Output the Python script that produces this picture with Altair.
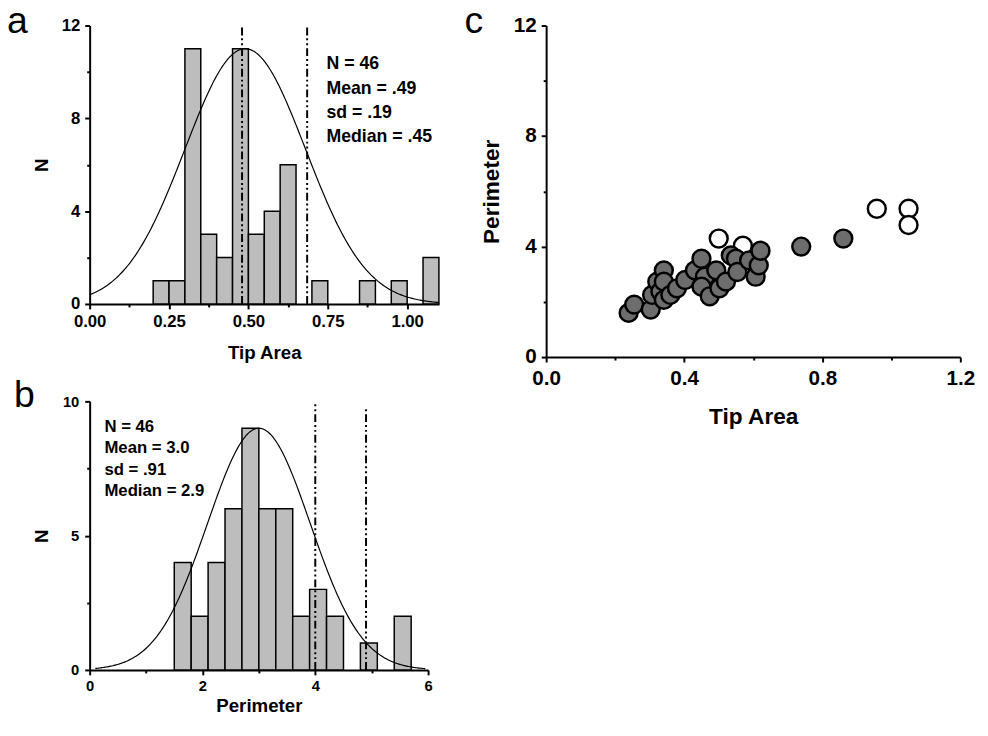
import altair as alt
import pandas as pd

FONT = "Liberation Sans"

# ---------------- Panel a : Tip Area histogram ----------------
a_bin_start = [0.20, 0.25, 0.30, 0.35, 0.40, 0.45, 0.50, 0.55, 0.60, 0.70, 0.85, 0.95, 1.05]
a_counts = [1, 1, 11, 3, 2, 11, 3, 4, 6, 1, 1, 1, 2]
a_bin_width = 0.05
a_ref_x = [0.48, 0.685]
a_ref_top = [12, 12]
a_stats = ["N = 46", "Mean = .49", "sd = .19", "Median = .45"]
a_fit_mean, a_fit_sd, a_fit_peak = 0.49, 0.19, 11.0
a_fit_range = [0.0, 1.1]

# ---------------- Panel b : Perimeter histogram ----------------
b_bin_start = [1.5, 1.8, 2.1, 2.4, 2.7, 3.0, 3.3, 3.6, 3.9, 4.2, 4.8, 5.4]
b_counts = [4, 2, 4, 6, 9, 6, 6, 2, 3, 2, 1, 2]
b_bin_width = 0.3
b_ref_x = [4.0, 4.9]
b_ref_top = [10, 9.8]
b_stats = ["N = 46", "Mean = 3.0", "sd = .91", "Median = 2.9"]
b_fit_mean, b_fit_sd, b_fit_peak = 3.0, 0.91, 9.0
b_fit_range = [0.1, 5.95]

# ---------------- Panel c : scatter ----------------
c_gray_x = [0.239, 0.255, 0.303, 0.307, 0.322, 0.331, 0.341, 0.341, 0.341, 0.36,
            0.379, 0.403, 0.431, 0.45, 0.46, 0.45, 0.474, 0.493, 0.502, 0.521,
            0.535, 0.55, 0.554, 0.588, 0.607, 0.616, 0.621, 0.739, 0.861]
c_gray_y = [1.60, 1.90, 1.72, 2.25, 2.73, 2.37, 3.14, 2.73, 2.07, 2.25,
            2.49, 2.79, 3.14, 3.56, 2.91, 2.55, 2.20, 3.14, 2.49, 2.73,
            3.68, 3.56, 3.08, 3.50, 2.91, 3.32, 3.85, 4.00, 4.29]
c_white_x = [0.50, 0.57, 0.958, 1.05, 1.05]
c_white_y = [4.29, 4.03, 5.37, 5.37, 4.78]


def mk_axis(title, values, minor_test, fmt, label_size, title_size, label_pad, title_pad):
    return alt.Axis(
        title=title, values=values,
        labelExpr=f"({minor_test}) ? '' : format(datum.value, '{fmt}')",
        tickSize={"condition": {"test": minor_test, "value": 3}, "value": 5},
        tickWidth=2, tickColor="black", domainColor="black", domainWidth=2,
        labelFont=FONT, labelFontWeight="bold", labelFontSize=label_size,
        labelColor="black", labelPadding=label_pad, labelFlush=False, labelOverlap=False,
        titleFont=FONT, titleFontWeight="bold", titleFontSize=title_size,
        titleColor="black", titlePadding=title_pad, grid=False)


def one_row():
    return pd.DataFrame({"k": [0]})


def text_at(txt, x, y, size, weight="normal", opacity=1):
    return alt.Chart(one_row()).mark_text(
        font=FONT, fontSize=size, fontWeight=weight, align="left", baseline="alphabetic",
        color="black", opacity=opacity
    ).encode(x=alt.value(x), y=alt.value(y), text=alt.value(txt))


def stats_layers(lines, x, y0, lh, size):
    return [text_at(t, x, y0 + i * lh, size, "bold") for i, t in enumerate(lines)]


def histogram(starts, counts, width, ref_x, ref_top, fit, fit_range, xs, ys, xa, ya):
    bars_df = pd.DataFrame({"start": starts, "count": counts})
    bars_df["end"] = bars_df["start"] + width
    bars_df["zero"] = 0
    bars = alt.Chart(bars_df).mark_bar(fill="#bdbdbd", stroke="black", strokeWidth=1.5).encode(
        x=alt.X("start:Q", scale=xs, axis=xa),
        x2="end:Q",
        y=alt.Y("count:Q", scale=ys, axis=ya),
        y2="zero:Q",
    )
    mean, sd, peak = fit
    step = (fit_range[1] - fit_range[0]) / 300
    curve = alt.Chart(alt.sequence(fit_range[0], fit_range[1] + step / 2, step, as_="x")).transform_calculate(
        y=f"{peak}*exp(-pow(datum.x-{mean},2)/(2*{sd}*{sd}))"
    ).mark_line(color="black", strokeWidth=1.2).encode(
        x=alt.X("x:Q", scale=xs, axis=xa),
        y=alt.Y("y:Q", scale=ys, axis=ya),
    )
    ref_df = pd.DataFrame({"x": ref_x, "top": ref_top, "bottom": [0] * len(ref_x)})
    rules = alt.Chart(ref_df).mark_rule(color="black", strokeWidth=2, strokeDash=[8, 3, 2, 3, 2, 3]).encode(
        x=alt.X("x:Q", scale=xs, axis=xa),
        y=alt.Y("bottom:Q", scale=ys, axis=ya),
        y2="top:Q",
    )
    return bars, curve, rules


# ---- panel a
xs_a = alt.Scale(domain=[0, 1.1], nice=False, zero=False)
ys_a = alt.Scale(domain=[0, 12], nice=False)
xa_a = mk_axis("Tip Area", [i * 0.125 for i in range(9)], "round(datum.value*8) % 2 == 1", ".2f", 17, 19, 5, 14)
ya_a = mk_axis("N", [0, 2, 4, 6, 8, 10, 12], "datum.value % 4 != 0", "d", 17, 19, 5, 10)
bars_a, curve_a, rules_a = histogram(a_bin_start, a_counts, a_bin_width, a_ref_x, a_ref_top,
                                     (a_fit_mean, a_fit_sd, a_fit_peak), a_fit_range,
                                     xs_a, ys_a, xa_a, ya_a)
panel_a = alt.layer(
    bars_a, curve_a, rules_a,
    *stats_layers(a_stats, 240.7, 44.5, 24.7, 18),
    text_at("a", -84, 8, 38),
).properties(width=355, height=283)

# ---- panel b
xs_b = alt.Scale(domain=[0, 6], nice=False, zero=False)
ys_b = alt.Scale(domain=[0, 10], nice=False)
xa_b = mk_axis("Perimeter", [0, 1, 2, 3, 4, 5, 6], "datum.value % 2 != 0", "d", 15, 19, 4, 3)
ya_b = mk_axis("N", [0, 2.5, 5, 7.5, 10], "datum.value % 5 != 0", "d", 15, 19, 6, 11)
bars_b, curve_b, rules_b = histogram(b_bin_start, b_counts, b_bin_width, b_ref_x, b_ref_top,
                                     (b_fit_mean, b_fit_sd, b_fit_peak), b_fit_range,
                                     xs_b, ys_b, xa_b, ya_b)
panel_b = alt.layer(
    bars_b, curve_b, rules_b,
    *stats_layers(b_stats, 15, 30.7, 22, 17),
    text_at("b", -77, 6, 38),
).properties(width=344, height=273)

# ---- panel c
xs_c = alt.Scale(domain=[0, 1.2], nice=False, zero=False)
ys_c = alt.Scale(domain=[0, 12], nice=False)
xa_c = mk_axis("Tip Area", [0, 0.2, 0.4, 0.6, 0.8, 1.0, 1.2], "round(datum.value*5) % 2 == 1", ".1f", 21, 23, 6, 18)
ya_c = mk_axis("Perimeter", [0, 2, 4, 6, 8, 10, 12], "datum.value % 4 != 0", "d", 21, 23, 5, 10)
white_df = pd.DataFrame({"x": c_white_x, "y": c_white_y})
gray_df = pd.DataFrame({"x": c_gray_x, "y": c_gray_y})
white = alt.Chart(white_df).mark_circle(size=330, opacity=1, fill="white", stroke="black", strokeWidth=2.5).encode(
    x=alt.X("x:Q", scale=xs_c, axis=xa_c), y=alt.Y("y:Q", scale=ys_c, axis=ya_c))
gray = alt.Chart(gray_df).mark_circle(size=330, opacity=1, fill="#6d6d6d", stroke="black", strokeWidth=2.5).encode(
    x=alt.X("x:Q", scale=xs_c, axis=xa_c), y=alt.Y("y:Q", scale=ys_c, axis=ya_c))
panel_c = alt.layer(white, gray, text_at("c", -83, 8, 38)).properties(width=421, height=337)

left = alt.vconcat(panel_a, panel_b, spacing=16)
chart = alt.hconcat(left, panel_c, spacing=23).properties(
    padding={"left": -1, "top": -10, "right": 5, "bottom": -4},
    background="white",
).configure_view(stroke=None)

chart.save("out.html", embed_options={"renderer": "svg", "actions": False})
